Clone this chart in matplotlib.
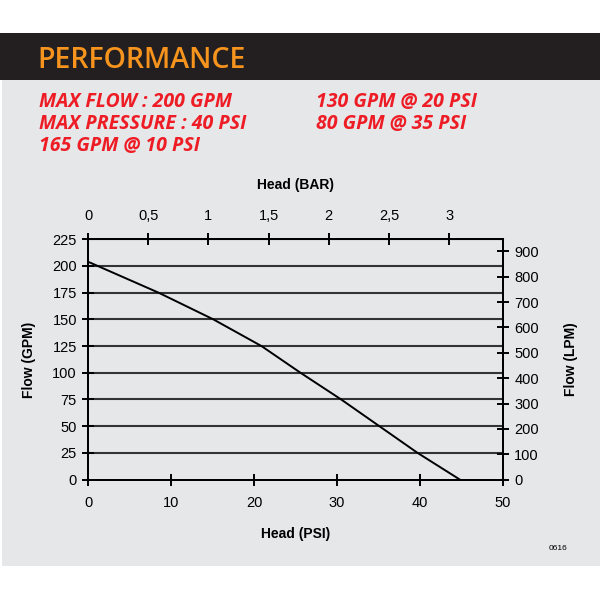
import matplotlib.pyplot as plt
from matplotlib.patches import Rectangle

# Data
head_psi = [0, 8.5, 15.1, 20.9, 25.6, 30.5, 35.1, 39.7, 44.8]
flow_gpm = [204, 175, 150, 125, 100, 75, 50, 25, 0]

psi_ticks = [0, 10, 20, 30, 40, 50]
gpm_ticks = [0, 25, 50, 75, 100, 125, 150, 175, 200, 225]
bar_ticks = [0, 0.5, 1, 1.5, 2, 2.5, 3]
bar_labels = ['0', '0,5', '1', '1,5', '2', '2,5', '3']
lpm_ticks = [0, 100, 200, 300, 400, 500, 600, 700, 800, 900]

specs_left = ['MAX FLOW : 200 GPM', 'MAX PRESSURE : 40 PSI', '165 GPM @ 10 PSI']
specs_right = ['130 GPM @ 20 PSI', '80 GPM @ 35 PSI']

PSI_PER_BAR = 14.5
gray = '#e6e7e9'
red = '#ee1c25'

plt.rcParams['font.family'] = ['Liberation Sans', 'DejaVu Sans']

fig = plt.figure(figsize=(6, 6), dpi=100)
fig.patch.set_facecolor('white')

# background panels
fig.patches.append(Rectangle((0.003, 0.057), 0.997, 0.81, transform=fig.transFigure,
                             facecolor=gray, edgecolor='none', zorder=-10))
fig.patches.append(Rectangle((0.0, 0.867), 1.0, 0.078, transform=fig.transFigure,
                             facecolor='#231f20', edgecolor='none', zorder=-10))

fig.text(0.063, 0.899, 'PERFORMANCE', color='#f7941d', fontsize=20.5, fontweight='semibold',
         family='Open Sans', va='center', ha='left')

for i, s in enumerate(specs_left):
    fig.text(0.065, 0.830 - i * 0.037, s, color=red, fontsize=14, fontweight='bold',
             style='italic', family='Open Sans', va='center')
for i, s in enumerate(specs_right):
    fig.text(0.527, 0.830 - i * 0.037, s, color=red, fontsize=14, fontweight='bold',
             style='italic', family='Open Sans', va='center')

ax = fig.add_axes([0.1467, 0.2007, 0.6917, 0.4005])
ax.set_facecolor(gray)
ax.set_xlim(0, 50)
ax.set_ylim(0, 225)

for g in gpm_ticks[1:-1]:
    ax.axhline(g, color='#333333', lw=1.5, zorder=1)

ax.plot(head_psi, flow_gpm, color='black', lw=1.4, zorder=3)

ax.set_xticks(psi_ticks)
ax.set_yticks(gpm_ticks)
ax.tick_params(direction='inout', length=8, width=1.4, labelsize=10.5, colors='black')
ax.tick_params(axis='x', pad=8)
ax.tick_params(axis='y', pad=4)
for sp in ax.spines.values():
    sp.set_linewidth(1.4)

ax.set_xlabel('Head (PSI)', fontweight='bold', fontsize=10, labelpad=12)
ax.set_ylabel('Flow (GPM)', fontweight='bold', fontsize=10, labelpad=12)

top = ax.secondary_xaxis('top', functions=(lambda p: p / PSI_PER_BAR, lambda b: b * PSI_PER_BAR))
top.set_xticks(bar_ticks, labels=bar_labels)
top.tick_params(direction='inout', length=8, width=1.4, labelsize=10.5, pad=8)
top.set_xlabel('Head (BAR)', fontweight='bold', fontsize=10, labelpad=14)

right = ax.twinx()
right.set_ylim(0, 948)
right.set_yticks(lpm_ticks)
right.tick_params(direction='inout', length=8, width=1.4, labelsize=10.5, pad=4)
right.set_ylabel('Flow (LPM)', fontweight='bold', fontsize=10, labelpad=18)
for sp in right.spines.values():
    sp.set_linewidth(1.4)

fig.text(0.945, 0.085, '0616', fontsize=6, ha='right', va='center')

fig.savefig('out.png', dpi=100, facecolor=fig.get_facecolor())
